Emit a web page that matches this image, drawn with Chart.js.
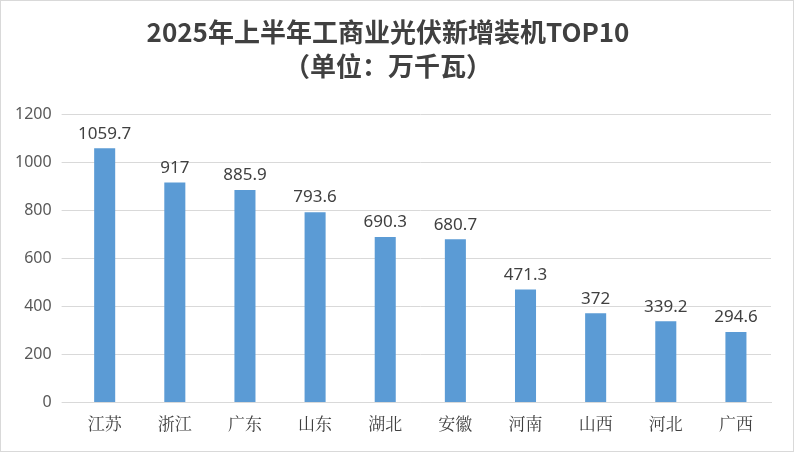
<!DOCTYPE html>
<html>
<head>
<meta charset="utf-8">
<script src="https://cdn.jsdelivr.net/npm/chart.js@4"></script>
<style>
  html, body { margin: 0; padding: 0; background: #fff; }
  #wrap { width: 792px; height: 450px; border: 1px solid #d9d9d9; }
</style>
</head>
<body>
<div id="wrap"><canvas id="c" width="792" height="450"></canvas></div>
<script>
const categories = ['江苏', '浙江', '广东', '山东', '湖北', '安徽', '河南', '山西', '河北', '广西'];
const values = [1059.7, 917, 885.9, 793.6, 690.3, 680.7, 471.3, 372, 339.2, 294.6];

// numbers above each bar
const barLabels = {
  id: 'barLabels',
  afterDatasetsDraw(chart) {
    const ctx = chart.ctx;
    const meta = chart.getDatasetMeta(0);
    ctx.save();
    ctx.font = '17px "Noto Sans", sans-serif';
    ctx.fillStyle = '#404040';
    ctx.textAlign = 'center';
    ctx.textBaseline = 'bottom';
    meta.data.forEach((bar, i) => {
      ctx.fillText(String(values[i]), bar.x, bar.y - 6);
    });
    ctx.restore();
  }
};

new Chart(document.getElementById('c').getContext('2d'), {
  type: 'bar',
  data: {
    labels: categories,
    datasets: [{
      data: values,
      backgroundColor: '#5b9bd5',
      barPercentage: 0.3,
      categoryPercentage: 1.0
    }]
  },
  options: {
    responsive: false,
    animation: false,
    layout: { padding: { left: 4, right: 22, top: 0, bottom: 14 } },
    scales: {
      x: {
        grid: { display: false },
        border: { color: '#d9d9d9' },
        ticks: { color: '#404040', font: { size: 17, family: '"Noto Serif CJK SC", "Noto Sans CJK SC", serif' } }
      },
      y: {
        min: 0,
        max: 1200,
        ticks: { stepSize: 200, color: '#595959', font: { size: 16, family: '"Noto Sans", sans-serif' }, padding: 10,
          callback: (v) => String(v) },
        grid: { color: '#d9d9d9' },
        border: { display: false }
      }
    },
    plugins: {
      legend: { display: false },
      tooltip: { enabled: false },
      title: {
        display: true,
        text: ['2025年上半年工商业光伏新增装机TOP10', '（单位：万千瓦）'],
        color: '#404040',
        font: { size: 26, weight: 'bold', family: '"Noto Sans CJK SC", sans-serif', lineHeight: 1.3 },
        padding: { top: 14, bottom: 32 }
      }
    }
  },
  plugins: [barLabels]
});
</script>
</body>
</html>
